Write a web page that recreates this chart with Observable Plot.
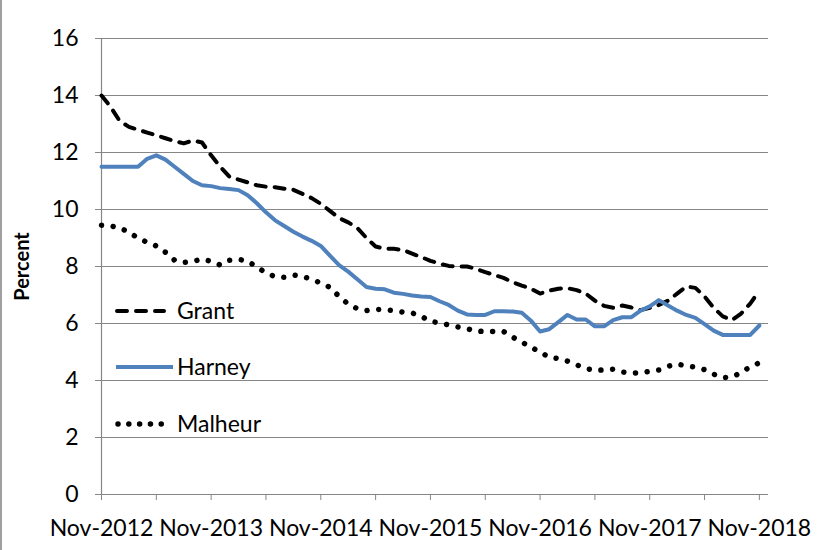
<!DOCTYPE html>
<html><head><meta charset="utf-8">
<script src="https://cdn.jsdelivr.net/npm/d3@7"></script>
<script src="https://cdn.jsdelivr.net/npm/@observablehq/plot@0.6"></script>
<style>
body{margin:0;background:#fff;}
#chart{position:relative;width:817px;height:550px;overflow:hidden;}
#chart svg{display:block;}
#legend{position:absolute;left:0;top:0;}
#frame{position:absolute;left:0;top:0;width:2px;height:550px;background:#a0a0a0;}
</style></head><body><div id="chart"><div id="frame"></div></div>
<script>
// Category axis: monthly, Nov-2012 .. Nov-2018
const tickLabels = ["Nov-2012","Nov-2013","Nov-2014","Nov-2015","Nov-2016","Nov-2017","Nov-2018"];
const seriesNames = ["Grant","Harney","Malheur"];
const yTicks = [0,2,4,6,8,10,12,14,16];

const grant = [14.0,13.6,13.1,12.9,12.8,12.7,12.6,12.5,12.4,12.32,
  12.42,12.35,11.9,11.5,11.15,11.05,10.95,10.85,10.8,10.78,
  10.73,10.69,10.55,10.4,10.2,9.95,9.7,9.55,9.35,9.0,
  8.7,8.62,8.62,8.58,8.45,8.33,8.2,8.1,8.02,8.0,
  8.0,7.92,7.8,7.7,7.6,7.45,7.33,7.22,7.05,7.15,
  7.22,7.24,7.17,7.05,6.8,6.62,6.55,6.63,6.56,6.47,
  6.55,6.65,6.8,7.05,7.3,7.25,6.95,6.55,6.25,6.12,
  6.35,6.7,7.15];
const harney = [11.5,11.5,11.5,11.5,11.5,11.78,11.9,11.75,11.5,11.25,
  11.0,10.85,10.82,10.75,10.72,10.68,10.5,10.22,9.9,9.62,
  9.42,9.22,9.05,8.9,8.72,8.38,8.05,7.82,7.55,7.28,
  7.22,7.2,7.08,7.04,6.98,6.95,6.93,6.78,6.65,6.45,
  6.32,6.3,6.3,6.43,6.43,6.42,6.38,6.1,5.72,5.8,
  6.05,6.3,6.14,6.14,5.9,5.9,6.12,6.22,6.22,6.45,
  6.6,6.82,6.63,6.45,6.3,6.2,5.98,5.75,5.6,5.6,
  5.6,5.6,5.93];
const malheur = [9.45,9.42,9.36,9.2,9.0,8.85,8.72,8.5,8.22,8.14,
  8.18,8.26,8.18,8.05,8.22,8.25,8.19,7.98,7.78,7.64,
  7.62,7.7,7.65,7.55,7.42,7.27,6.95,6.68,6.52,6.45,
  6.5,6.48,6.45,6.4,6.37,6.25,6.08,6.02,5.95,5.88,
  5.82,5.73,5.72,5.72,5.72,5.52,5.35,5.17,5.0,4.82,
  4.77,4.68,4.55,4.42,4.36,4.37,4.4,4.3,4.26,4.27,
  4.32,4.37,4.5,4.58,4.51,4.47,4.38,4.22,4.1,4.12,
  4.28,4.48,4.62];

const months = d3.utcMonth.range(new Date(Date.UTC(2012,10,1)), new Date(Date.UTC(2018,11,1)));
const rows = (vals) => vals.map((v,i) => ({i, date: months[i], v}));

const grid = "#868686";
const font = "Lato, 'Open Sans', sans-serif";

const chart = Plot.plot({
  width: 817, height: 550,
  marginLeft: 101, marginRight: 49, marginTop: 38, marginBottom: 56,
  style: {fontFamily: font, fontSize: "23px", color: "#000", background: "#fff", overflow: "visible"},
  x: {type: "linear", domain: [0, 73], axis: null},
  y: {domain: [0, 16], axis: null},
  marks: [
    Plot.ruleY(yTicks, {stroke: grid, strokeWidth: 1.2}),
    Plot.ruleX([0], {stroke: grid, strokeWidth: 1.2}),
    Plot.axisY({ticks: yTicks, tickSize: 6, tickPadding: 17, stroke: grid, fill: "#000", fontSize: 23, label: null}),
    Plot.axisX({ticks: d3.range(0, 73, 6), tickSize: 6, tickPadding: 19, stroke: grid, fill: "#000", fontSize: 23, label: null,
      tickFormat: i => (i % 12 === 0 ? tickLabels[i / 12] : "")}),
    Plot.text(["Percent"], {frameAnchor: "left", textAnchor: "middle", lineAnchor: "middle", rotate: -90, dx: -79, fontWeight: "bold", fontSize: 20, fill: "#000"}),
    Plot.line(rows(malheur), {x: "i", y: "v", stroke: "#000", strokeWidth: 5.5, strokeLinecap: "round", strokeDasharray: "0.01,11.7"}),
    Plot.line(rows(grant), {x: "i", y: "v", stroke: "#000", strokeWidth: 4, strokeLinecap: "round", strokeLinejoin: "round", strokeDasharray: "10,9"}),
    Plot.line(rows(harney), {x: "i", y: "v", stroke: "#4F81BD", strokeWidth: 4, strokeLinejoin: "round"})
  ]
});
document.getElementById("chart").appendChild(chart);

// Legend inside the plot area
const styles = [
  {stroke: "#000", width: 4, dash: "10,9", cap: "round"},
  {stroke: "#4F81BD", width: 4, dash: null, cap: "butt"},
  {stroke: "#000", width: 5.5, dash: "0.01,10.8", cap: "round"}
];
const legendPos = [{x1: 117, x2: 164, y: 311}, {x1: 116, x2: 173, y: 367}, {x1: 118, x2: 168, y: 424}];
const lg = d3.select("#chart").append("svg").attr("id", "legend").attr("width", 817).attr("height", 550);
seriesNames.forEach((name, k) => {
  const p = legendPos[k], s = styles[k];
  lg.append("line").attr("x1", p.x1).attr("x2", p.x2).attr("y1", p.y).attr("y2", p.y)
    .attr("stroke", s.stroke).attr("stroke-width", s.width).attr("stroke-linecap", s.cap)
    .attr("stroke-dasharray", s.dash);
  lg.append("text").attr("x", 177).attr("y", p.y).attr("dy", "0.35em")
    .attr("font-family", font).attr("font-size", 23).attr("fill", "#000").text(name);
});
</script>
</body></html>
